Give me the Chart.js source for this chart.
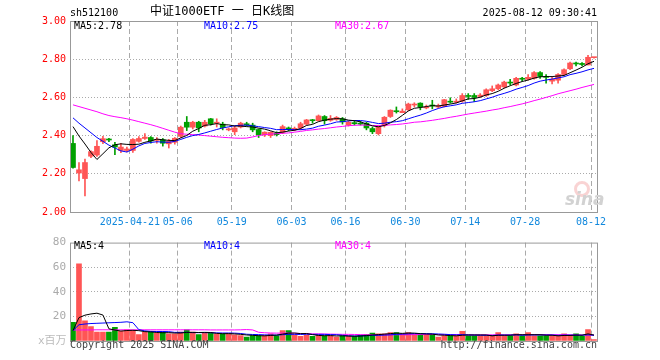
<!DOCTYPE html>
<html>
<head>
<meta charset="utf-8">
<script src="https://cdn.jsdelivr.net/npm/chart.js@4.4.1/dist/chart.umd.min.js"></script>
<style>
body{margin:0;background:#fff}
#box{position:relative;width:660px;height:360px;font-family:"DejaVu Sans Mono",monospace;font-size:10px;overflow:hidden;color:#000}
#box canvas{position:absolute;left:0}
.t{position:absolute;white-space:nowrap;line-height:1}
</style>
</head>
<body>
<div id="box">
<canvas id="kline" width="660" height="232" style="top:0"></canvas>
<canvas id="vol" width="660" height="128" style="top:232px"></canvas>
<div class="t" style="left:70px;top:8px">sh512100</div>
<div class="t" style="left:150px;top:5px;font-size:12px;font-family:'DejaVu Sans Mono','Noto Sans CJK SC',monospace">中证1000ETF 一 日K线图</div>
<div class="t" style="right:63px;top:8px">2025-08-12 09:30:41</div>
<div class="t" style="left:74px;top:21px">MA5:2.78</div>
<div class="t" style="left:204px;top:21px;color:#0000ff">MA10:2.75</div>
<div class="t" style="left:335px;top:21px;color:#ff00ff">MA30:2.67</div>
<div class="t" style="left:74px;top:241px">MA5:4</div>
<div class="t" style="left:204px;top:241px;color:#0000ff">MA10:4</div>
<div class="t" style="left:335px;top:241px;color:#ff00ff">MA30:4</div>
<div class="t" style="left:38px;top:335px;color:#bbb;font-size:11px;font-family:'DejaVu Sans Mono','Noto Sans CJK SC',monospace">x百万</div>
<div class="t" style="left:70px;top:340px;color:#444">Copyright 2025 SINA.COM</div>
<div class="t" style="right:63px;top:340px;color:#444">http://finance.sina.com.cn</div>
<div style="position:absolute;left:574px;top:181px;width:10px;height:10px;border:3px solid rgba(235,110,110,0.3);border-radius:50%"></div>
<div class="t" style="left:565px;top:189px;color:#d2d2d2;font:italic bold 17px 'DejaVu Sans',sans-serif">sina</div>
</div>
<script>
const dates = [
  '2025-04-07','2025-04-08','2025-04-09','2025-04-10','2025-04-11','2025-04-14','2025-04-15','2025-04-16','2025-04-17','2025-04-18',
  '2025-04-21','2025-04-22','2025-04-23','2025-04-24','2025-04-25','2025-04-28','2025-04-29','2025-04-30','2025-05-06','2025-05-07',
  '2025-05-08','2025-05-09','2025-05-12','2025-05-13','2025-05-14','2025-05-15','2025-05-16','2025-05-19','2025-05-20','2025-05-21',
  '2025-05-22','2025-05-23','2025-05-26','2025-05-27','2025-05-28','2025-05-29','2025-05-30','2025-06-03','2025-06-04','2025-06-05',
  '2025-06-06','2025-06-09','2025-06-10','2025-06-11','2025-06-12','2025-06-13','2025-06-16','2025-06-17','2025-06-18','2025-06-19',
  '2025-06-20','2025-06-23','2025-06-24','2025-06-25','2025-06-26','2025-06-27','2025-06-30','2025-07-01','2025-07-02','2025-07-03',
  '2025-07-04','2025-07-07','2025-07-08','2025-07-09','2025-07-10','2025-07-11','2025-07-14','2025-07-15','2025-07-16','2025-07-17',
  '2025-07-18','2025-07-21','2025-07-22','2025-07-23','2025-07-24','2025-07-25','2025-07-28','2025-07-29','2025-07-30','2025-07-31',
  '2025-08-01','2025-08-04','2025-08-05','2025-08-06','2025-08-07','2025-08-08','2025-08-11','2025-08-12'
];
const openP = [
  2.359,2.204,2.175,2.292,2.298,2.368,2.380,2.352,2.322,2.322,
  2.322,2.370,2.385,2.390,2.375,2.378,2.357,2.365,2.396,2.470,
  2.444,2.470,2.450,2.488,2.465,2.460,2.430,2.420,2.445,2.462,
  2.455,2.432,2.404,2.400,2.412,2.417,2.440,2.430,2.440,2.460,
  2.480,2.478,2.500,2.480,2.485,2.488,2.455,2.468,2.465,2.465,
  2.437,2.410,2.452,2.500,2.530,2.520,2.535,2.560,2.570,2.545,
  2.560,2.550,2.553,2.580,2.575,2.580,2.610,2.610,2.605,2.610,
  2.635,2.645,2.655,2.680,2.665,2.700,2.695,2.700,2.730,2.710,
  2.685,2.690,2.720,2.750,2.780,2.778,2.770,2.808
];
const highP = [
  2.400,2.259,2.277,2.320,2.374,2.396,2.386,2.365,2.360,2.340,
  2.385,2.395,2.410,2.395,2.390,2.385,2.380,2.390,2.450,2.500,
  2.475,2.475,2.480,2.490,2.488,2.470,2.440,2.450,2.470,2.470,
  2.465,2.435,2.420,2.420,2.420,2.455,2.445,2.445,2.470,2.485,
  2.485,2.508,2.505,2.505,2.500,2.495,2.475,2.480,2.475,2.470,
  2.445,2.450,2.500,2.535,2.550,2.540,2.570,2.572,2.572,2.560,
  2.585,2.565,2.590,2.598,2.592,2.620,2.620,2.620,2.620,2.645,
  2.660,2.670,2.685,2.695,2.705,2.705,2.720,2.735,2.735,2.720,
  2.705,2.725,2.750,2.785,2.785,2.782,2.820,2.810
];
const lowP = [
  2.230,2.163,2.084,2.285,2.291,2.358,2.368,2.300,2.310,2.315,
  2.312,2.365,2.380,2.360,2.360,2.345,2.335,2.355,2.390,2.426,
  2.435,2.420,2.445,2.455,2.445,2.430,2.425,2.405,2.440,2.450,
  2.420,2.390,2.395,2.390,2.398,2.410,2.425,2.425,2.430,2.455,
  2.465,2.475,2.460,2.475,2.480,2.460,2.450,2.455,2.455,2.430,
  2.410,2.403,2.445,2.495,2.518,2.520,2.530,2.550,2.535,2.540,
  2.540,2.545,2.550,2.570,2.570,2.575,2.590,2.578,2.600,2.605,
  2.630,2.640,2.650,2.665,2.660,2.685,2.690,2.695,2.700,2.675,
  2.670,2.675,2.715,2.745,2.765,2.765,2.770,2.805
];
const closeP = [
  2.233,2.221,2.259,2.316,2.344,2.384,2.377,2.340,2.340,2.330,
  2.380,2.385,2.392,2.372,2.380,2.360,2.370,2.386,2.444,2.444,
  2.470,2.440,2.470,2.462,2.470,2.442,2.435,2.440,2.465,2.455,
  2.430,2.404,2.418,2.417,2.405,2.447,2.435,2.438,2.462,2.482,
  2.478,2.503,2.478,2.490,2.495,2.472,2.470,2.462,2.460,2.440,
  2.420,2.447,2.496,2.533,2.525,2.528,2.565,2.565,2.550,2.550,
  2.555,2.555,2.588,2.575,2.580,2.610,2.605,2.600,2.612,2.640,
  2.645,2.665,2.680,2.675,2.700,2.695,2.705,2.730,2.710,2.705,
  2.695,2.720,2.745,2.780,2.775,2.772,2.810,2.810
];
const ma5 = [
  2.447,2.398,2.356,2.312,2.275,2.305,2.336,2.352,2.357,2.354,
  2.353,2.355,2.365,2.372,2.382,2.378,2.375,2.374,2.388,2.401,
  2.423,2.437,2.454,2.457,2.463,2.457,2.456,2.450,2.450,2.447,
  2.445,2.439,2.434,2.425,2.415,2.418,2.424,2.428,2.437,2.453,
  2.459,2.473,2.481,2.486,2.489,2.488,2.481,2.478,2.472,2.461,
  2.451,2.446,2.453,2.467,2.484,2.506,2.529,2.543,2.547,2.552,
  2.557,2.555,2.560,2.565,2.571,2.582,2.592,2.594,2.601,2.613,
  2.620,2.632,2.648,2.661,2.673,2.683,2.691,2.701,2.708,2.709,
  2.709,2.712,2.715,2.729,2.743,2.758,2.776,2.789
];
const ma10 = [
  2.493,2.465,2.440,2.415,2.390,2.370,2.350,2.335,2.320,2.314,
  2.329,2.346,2.359,2.364,2.368,2.366,2.365,2.370,2.380,2.391,
  2.400,2.406,2.414,2.423,2.432,2.440,2.446,2.452,2.454,2.455,
  2.451,2.447,2.442,2.438,2.431,2.432,2.432,2.431,2.431,2.434,
  2.439,2.449,2.455,2.462,2.471,2.473,2.477,2.479,2.479,2.475,
  2.469,2.463,2.465,2.470,2.473,2.478,2.488,2.498,2.507,2.518,
  2.531,2.542,2.551,2.556,2.561,2.569,2.573,2.577,2.583,2.592,
  2.601,2.612,2.621,2.631,2.643,2.652,2.662,2.675,2.685,2.691,
  2.696,2.702,2.708,2.719,2.726,2.734,2.744,2.752
];
const ma30 = [
  2.561,2.552,2.543,2.534,2.525,2.514,2.505,2.499,2.494,2.488,
  2.481,2.473,2.465,2.457,2.448,2.438,2.428,2.418,2.410,2.407,
  2.405,2.403,2.400,2.397,2.394,2.391,2.389,2.387,2.386,2.387,
  2.393,2.400,2.405,2.408,2.410,2.412,2.414,2.418,2.422,2.427,
  2.430,2.434,2.437,2.441,2.445,2.448,2.452,2.454,2.455,2.455,
  2.453,2.453,2.454,2.456,2.458,2.461,2.465,2.470,2.472,2.476,
  2.480,2.485,2.490,2.496,2.501,2.507,2.513,2.518,2.523,2.528,
  2.534,2.539,2.546,2.552,2.559,2.566,2.574,2.583,2.591,2.600,
  2.609,2.619,2.627,2.635,2.643,2.652,2.660,2.668
];
// volume, millions
const volume = [
  15.1,62.8,16.4,11.7,7.2,7.2,7.2,11.1,7.9,9.0,
  8.5,5.3,7.2,7.2,6.4,7.2,5.8,5.8,7.2,9.0,
  7.2,5.3,6.4,6.4,5.8,5.8,5.8,5.0,4.5,3.2,
  4.5,4.5,4.5,5.8,4.5,8.5,8.5,5.0,3.7,5.0,
  3.7,5.0,4.2,4.2,3.2,4.2,4.2,3.7,4.8,5.3,
  6.4,5.8,5.8,6.9,6.9,5.8,6.9,5.3,5.3,5.3,
  5.3,3.2,4.2,4.2,4.2,7.9,4.2,4.2,4.2,4.2,
  4.2,6.9,4.2,4.2,5.8,4.2,6.9,4.2,4.2,4.2,
  4.2,4.2,5.8,4.2,5.8,3.7,9.3,1.1
];
const volMa5 = [
  8.5,19.0,21.0,22.0,22.6,21.1,9.9,8.9,8.1,8.5,
  8.7,8.4,7.6,7.4,6.9,6.7,6.8,6.5,6.5,7.0,
  7.0,6.9,7.0,6.9,6.2,5.9,6.0,5.8,5.4,4.9,
  4.6,4.3,4.2,4.5,4.8,5.6,6.4,6.5,6.0,6.1,
  5.2,4.5,4.3,4.4,4.1,4.2,4.0,3.9,4.0,4.4,
  4.9,5.2,5.6,6.0,6.4,6.2,6.5,6.4,6.0,5.7,
  5.6,4.9,4.7,4.4,4.2,4.7,4.9,4.9,4.9,4.9,
  4.2,4.7,4.7,4.7,5.1,5.1,5.1,5.1,5.1,4.7,
  4.7,4.2,4.5,4.5,4.8,4.7,5.8,4.8
];
const volMa10 = [
  8.5,13.2,13.8,14.2,14.4,14.6,14.8,15.0,15.2,15.6,
  14.9,9.2,8.2,7.8,7.7,7.7,7.6,7.0,7.0,7.0,
  6.8,6.8,6.8,6.7,6.6,6.5,6.5,6.4,6.1,5.5,
  5.3,5.2,5.0,4.9,4.8,5.1,5.4,5.4,5.3,5.5,
  5.4,5.4,5.4,5.2,5.1,4.7,4.2,4.1,4.2,4.3,
  4.5,4.6,4.8,5.0,5.4,5.6,5.8,6.0,6.0,6.0,
  5.9,5.7,5.5,5.2,5.0,5.2,4.9,4.8,4.7,4.6,
  4.5,4.8,4.8,4.8,5.0,4.6,4.9,4.9,4.9,4.9,
  4.9,4.6,4.8,4.8,4.8,4.7,5.0,4.7
];
const volMa30 = [
  8.9,9.0,9.0,9.0,9.1,9.1,9.1,9.1,9.1,9.1,
  9.1,9.1,9.1,9.1,9.1,9.1,9.1,9.1,9.1,9.1,
  9.1,9.1,9.1,9.0,9.0,9.0,9.0,9.0,9.1,9.3,
  9.0,7.1,6.7,6.5,6.4,6.4,6.5,6.3,6.1,6.0,
  5.8,5.8,5.7,5.6,5.5,5.4,5.4,5.3,5.2,5.1,
  5.1,5.1,5.1,5.1,5.1,5.1,5.1,5.2,5.2,5.3,
  5.3,5.2,5.2,5.2,5.2,5.1,5.0,5.0,5.0,5.0,
  5.0,5.0,5.0,5.0,5.1,5.1,5.2,5.2,5.2,5.2,
  5.1,5.1,5.1,5.0,4.9,4.9,4.9,4.8
];
const axisDates = ['2025-04-21','2025-05-06','2025-05-19','2025-06-03','2025-06-16','2025-06-30','2025-07-14','2025-07-28','2025-08-12'];
const axisText  = ['2025-04-21','05-06','05-19','06-03','06-16','06-30','07-14','07-28','08-12'];

const UP = '#ff5555', DOWN = '#00a000', GRID = '#aaaaaa';
const colors = dates.map((d, i) => closeP[i] >= openP[i] ? UP : DOWN);
const bodies = dates.map((d, i) => [openP[i], closeP[i]]);
const wicks = dates.map((d, i) => [lowP[i], highP[i]]);

Chart.defaults.font.family = "'DejaVu Sans Mono', monospace";
Chart.defaults.font.size = 10;

const frame = {
  id: 'frame',
  afterDraw(c) {
    const a = c.chartArea, ctx = c.ctx;
    ctx.save();
    ctx.strokeStyle = '#999';
    ctx.lineWidth = 1;
    ctx.strokeRect(a.left + 0.5, a.top + 0.5, a.right - a.left, a.bottom - a.top);
    ctx.restore();
  }
};

const dateGrid = ctx => axisDates.includes(dates[ctx.index]) ? GRID : 'rgba(0,0,0,0)';
const maLine = (data, color) => ({type: 'line', data, borderColor: color, borderWidth: 1, pointRadius: 0, order: 0});

function xScale(showLabels, height) {
  return {
    offset: true,
    grid: {offset: true, color: dateGrid, drawTicks: false},
    border: {display: false, dash: [5, 3]},
    ticks: {
      display: showLabels, autoSkip: false, maxRotation: 0, minRotation: 0,
      color: '#1188dd', padding: 4, labelOffset: -3,
      callback: (v, i) => { const k = axisDates.indexOf(dates[i]); return k < 0 ? '' : axisText[k]; }
    },
    afterFit: s => { s.height = height; }
  };
}

new Chart(document.getElementById('kline'), {
  type: 'bar',
  data: {
    labels: dates,
    datasets: [
      maLine(ma5, '#000000'),
      maLine(ma10, '#0000ff'),
      maLine(ma30, '#ff00ff'),
      {data: bodies, backgroundColor: colors, barThickness: 5, minBarLength: 1, grouped: false, order: 1},
      {data: wicks, backgroundColor: colors, barThickness: 1, grouped: false, order: 2}
    ]
  },
  options: {
    responsive: false, animation: false, events: [],
    layout: {padding: {left: 0, right: 63, top: 21, bottom: 0}},
    plugins: {legend: {display: false}, tooltip: {enabled: false}},
    scales: {
      x: xScale(true, 20),
      y: {
        min: 2, max: 3,
        grid: {drawTicks: false, color: ctx => (ctx.tick && ctx.tick.value > 2.01 && ctx.tick.value < 2.99) ? GRID : 'rgba(0,0,0,0)'},
        border: {display: false, dash: [1, 2]},
        ticks: {stepSize: 0.2, color: '#ff0000', padding: 4, callback: v => v.toFixed(2)},
        afterFit: s => { s.width = 70; }
      }
    }
  },
  plugins: [frame]
});

new Chart(document.getElementById('vol'), {
  type: 'bar',
  data: {
    labels: dates,
    datasets: [
      maLine(volMa5, '#000000'),
      maLine(volMa10, '#0000ff'),
      maLine(volMa30, '#ff00ff'),
      {data: volume, backgroundColor: colors, barThickness: 5, grouped: false, order: 1}
    ]
  },
  options: {
    responsive: false, animation: false, events: [],
    layout: {padding: {left: 0, right: 63, top: 8, bottom: 0}},
    plugins: {legend: {display: false}, tooltip: {enabled: false}},
    scales: {
      x: xScale(false, 19),
      y: {
        min: 0, max: 80,
        grid: {drawTicks: false, color: ctx => (ctx.tick && ctx.tick.value > 0 && ctx.tick.value < 80) ? GRID : 'rgba(0,0,0,0)'},
        border: {display: false, dash: [1, 2]},
        ticks: {stepSize: 20, color: '#aaaaaa', padding: 4, font: {size: 11}, callback: v => v === 0 ? '' : v},
        afterFit: s => { s.width = 70; }
      }
    }
  },
  plugins: [frame]
});
</script>
</body>
</html>
